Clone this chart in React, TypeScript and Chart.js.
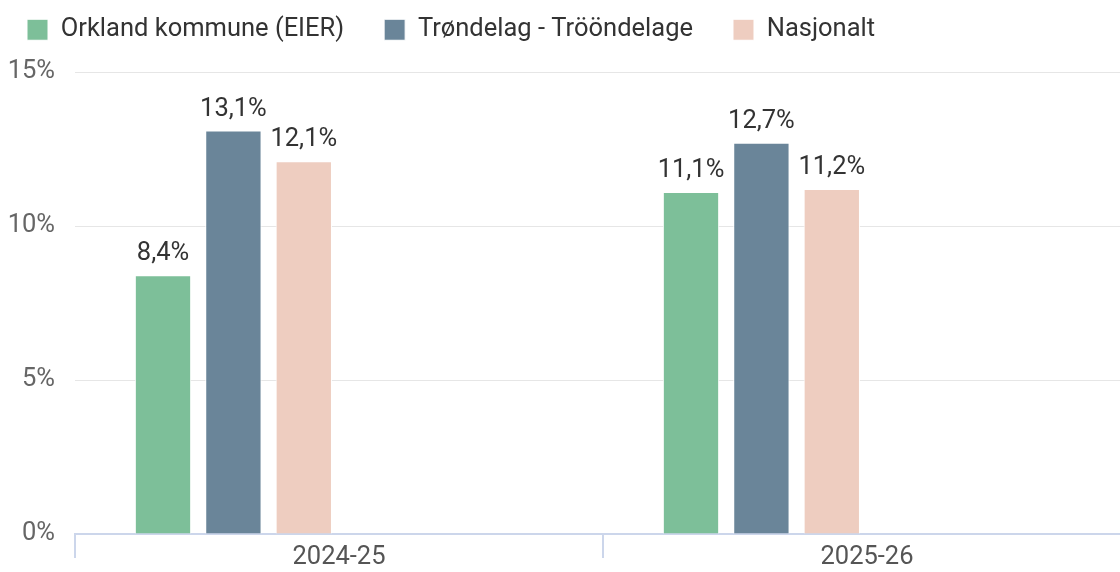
import React, { useEffect, useRef } from 'react';
import { Chart, registerables } from 'chart.js';

Chart.register(...registerables);

const categories = ['2024-25', '2025-26'];
const seriesNames = ['Orkland kommune (EIER)', 'Trøndelag - Trööndelage', 'Nasjonalt'];
const orkland = [8.4, 11.1];
const trondelag = [13.1, 12.7];
const nasjonalt = [12.1, 11.2];
const seriesColors = ['#7dbf99', '#6a8599', '#eecdc0'];
const yMax = 15;
const yStep = 5;

const FS = 25.5;

const valueLabels = {
  id: 'valueLabels',
  afterDatasetsDraw(chart: any) {
    const ctx = chart.ctx;
    ctx.save();
    ctx.font = FS + 'px Roboto';
    ctx.fillStyle = '#333333';
    ctx.textAlign = 'center';
    ctx.textBaseline = 'alphabetic';
    chart.data.datasets.forEach((ds: any, i: number) => {
      const meta = chart.getDatasetMeta(i);
      meta.data.forEach((bar: any, j: number) => {
        const v = ds.data[j];
        if (v == null) return;
        ctx.fillText(v.toFixed(1).replace('.', ',') + '%', bar.x, bar.y - 15);
      });
    });
    ctx.restore();
  },
};

const legendHeight = {
  id: 'legendHeight',
  beforeInit(chart: any) {
    const legend = chart.legend;
    if (!legend) return;
    const orig = legend.fit;
    legend.fit = function () {
      orig.call(this);
      this.height = 95;
    };
  },
};

export default function App() {
  const ref = useRef<HTMLCanvasElement>(null);
  useEffect(() => {
    if (!ref.current) return;
    const seriesData = [orkland, trondelag, nasjonalt];
    const datasets: any[] = seriesNames.map((name, i) => ({
      label: name,
      data: seriesData[i],
      backgroundColor: seriesColors[i],
      borderColor: '#ffffff',
      borderWidth: 1,
    }));
    // empty slots (series without values) keep the original grouping width
    for (let k = 0; k < 3; k++) {
      datasets.push({ label: '', data: categories.map(() => null), backgroundColor: 'rgba(0,0,0,0)' });
    }
    const chart = new Chart(ref.current, {
      type: 'bar',
      data: { labels: categories, datasets },
      plugins: [valueLabels, legendHeight],
      options: {
        animation: false,
        responsive: true,
        maintainAspectRatio: false,
        font: { family: 'Roboto' } as any,
        layout: { padding: { left: -13, top: -23, right: 2, bottom: 0 } },
        datasets: { bar: { categoryPercentage: 0.8, barPercentage: 0.8 } },
        plugins: {
          tooltip: { enabled: false },
          legend: {
            display: true,
            position: 'top',
            align: 'start',
            labels: {
              font: { family: 'Roboto', size: FS },
              color: '#333333',
              boxWidth: 21,
              boxHeight: 21,
              padding: 40,
              filter: (item: any) => item.datasetIndex < 3,
            },
          } as any,
        },
        scales: {
          x: {
            offset: true,
            grid: {
              display: true,
              drawOnChartArea: false,
              drawTicks: true,
              tickLength: 24,
              color: '#ccd6eb',
              lineWidth: 2,
              offset: true,
            },
            border: { display: true, color: '#ccd6eb', width: 2 },
            ticks: {
              font: { family: 'Roboto', size: FS },
              color: '#555555',
              padding: -16,
              maxRotation: 0,
            },
            afterFit: (scale: any) => {
              scale.height = 38;
            },
          },
          y: {
            min: 0,
            max: yMax,
            grid: { color: '#e6e6e6', drawTicks: false, lineWidth: 1 },
            border: { display: false },
            ticks: {
              stepSize: yStep,
              font: { family: 'Roboto', size: FS },
              color: '#666666',
              padding: 20,
              callback: (v: any) => v + '%',
            },
            afterFit: (scale: any) => {
              scale.width = 88;
            },
          },
        },
      } as any,
    });
    return () => chart.destroy();
  }, []);

  return (
    <div style={{ position: 'absolute', left: 0, top: 0, width: 1120, height: 572, overflow: 'hidden', background: '#ffffff' }}>
      <div style={{ position: 'relative', width: 1133, height: 572 }}>
        <canvas ref={ref} />
      </div>
    </div>
  );
}
